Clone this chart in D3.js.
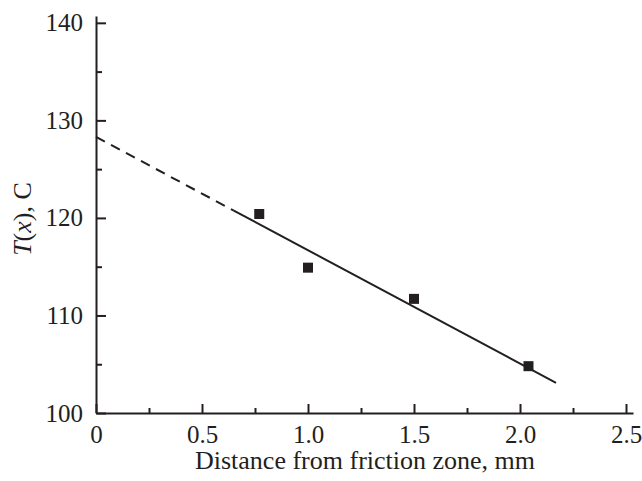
<!DOCTYPE html>
<html>
<head>
<meta charset="utf-8">
<script src="https://cdn.jsdelivr.net/npm/d3@7"></script>
<style>
  body { margin: 0; background: #fff; }
  svg { display: block; }
  .axis text { font-family: "Liberation Serif", "Times New Roman", serif; font-size: 25px; fill: #231f20; }
  .axis path, .axis line { stroke: #231f20; stroke-width: 2; }
</style>
</head>
<body>
<svg width="642" height="481"></svg>
<script>
// measured points
var distance = [0.77, 1.0, 1.5, 2.04];
var temperature = [120.4, 114.9, 111.7, 104.8];

// fitted line: dashed extrapolation then solid part
var fitDashed = [[0, 128.3], [0.65, 120.75]];
var fitSolid = [[0.65, 120.75], [2.17, 103.1]];

var xMajor = [0, 0.5, 1.0, 1.5, 2.0, 2.5];
var xMinor = [0.25, 0.75, 1.25, 1.75, 2.25];
var yMajor = [100, 110, 120, 130, 140];
var yMinor = [105, 115, 125, 135];

var ink = "#231f20";
var svg = d3.select("svg");

var x = d3.scaleLinear().domain([0, 2.533]).range([96, 633]),
    y = d3.scaleLinear().domain([100, 140.7]).range([413, 16]);

// x axis
svg.append("g")
  .attr("class", "axis")
  .attr("transform", "translate(0," + y(100) + ")")
  .call(d3.axisBottom(x).tickValues(xMajor).tickSizeInner(-9).tickSizeOuter(0).tickPadding(12)
    .tickFormat(function(d) { return d === 0 ? "0" : d3.format(".1f")(d); }));

svg.append("g")
  .attr("class", "axis")
  .attr("transform", "translate(0," + y(100) + ")")
  .call(d3.axisBottom(x).tickValues(xMinor).tickSizeInner(-5).tickSizeOuter(0).tickFormat(""))
  .select(".domain").remove();

// y axis
svg.append("g")
  .attr("class", "axis")
  .attr("transform", "translate(" + x(0) + ",0)")
  .call(d3.axisLeft(y).tickValues(yMajor).tickSizeInner(-10).tickSizeOuter(0).tickPadding(13));

svg.append("g")
  .attr("class", "axis")
  .attr("transform", "translate(" + x(0) + ",0)")
  .call(d3.axisLeft(y).tickValues(yMinor).tickSizeInner(-6).tickSizeOuter(0).tickFormat(""))
  .select(".domain").remove();

// axis titles
svg.append("text")
  .attr("x", 365)
  .attr("y", 469)
  .attr("text-anchor", "middle")
  .style("font-family", "Liberation Serif, serif")
  .style("font-size", "26px")
  .style("fill", ink)
  .text("Distance from friction zone, mm");

var yt = svg.append("text")
  .attr("transform", "translate(31,219) rotate(-90)")
  .attr("text-anchor", "middle")
  .style("font-family", "Liberation Serif, serif")
  .style("font-size", "26px")
  .style("fill", ink);
yt.append("tspan").style("font-style", "italic").text("T");
yt.append("tspan").text("(");
yt.append("tspan").style("font-style", "italic").text("x");
yt.append("tspan").text("), C");

// fit line
var line = d3.line().x(function(d) { return x(d[0]); }).y(function(d) { return y(d[1]); });

svg.append("path")
  .datum(fitDashed)
  .attr("d", line)
  .attr("fill", "none")
  .attr("stroke", ink)
  .attr("stroke-width", 2)
  .attr("stroke-dasharray", "10,7");

svg.append("path")
  .datum(fitSolid)
  .attr("d", line)
  .attr("fill", "none")
  .attr("stroke", ink)
  .attr("stroke-width", 2);

// markers
var s = 10;
svg.selectAll(".pt")
  .data(distance)
  .enter().append("rect")
  .attr("class", "pt")
  .attr("x", function(d) { return x(d) - s / 2; })
  .attr("y", function(d, i) { return y(temperature[i]) - s / 2; })
  .attr("width", s)
  .attr("height", s)
  .attr("fill", ink);
</script>
</body>
</html>
